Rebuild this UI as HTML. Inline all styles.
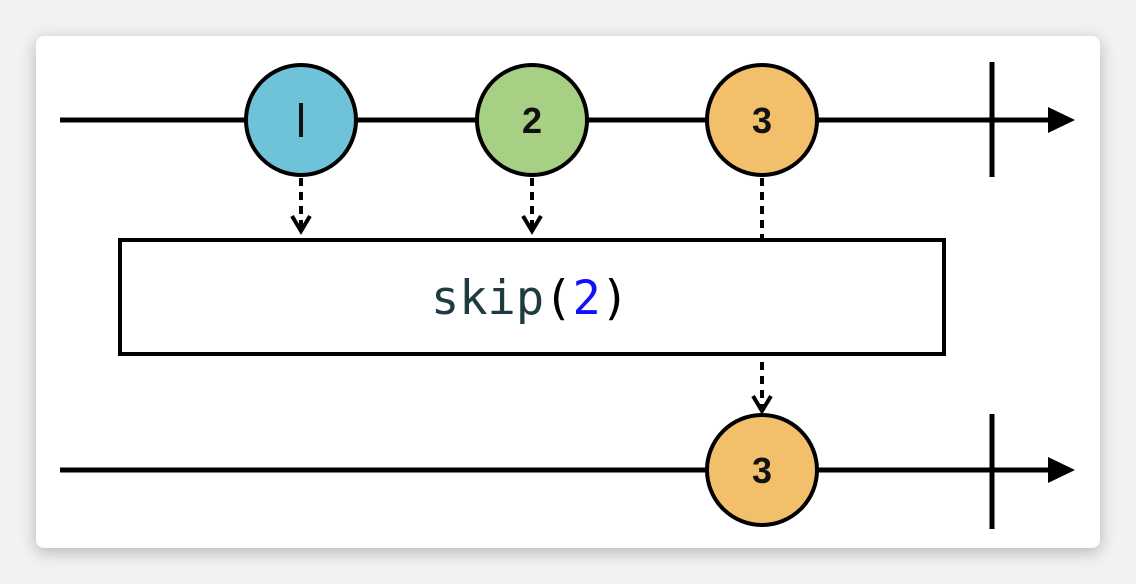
<!DOCTYPE html>
<html><head><style>
body{margin:0;width:1136px;height:584px;background:#f2f2f2;overflow:hidden}
.card{position:absolute;left:36px;top:36px;width:1064px;height:512px;background:#fff;border-radius:8px;box-shadow:0 4px 16px rgba(0,0,0,0.25)}
svg{position:absolute;left:0;top:0}
</style></head><body>
<div class="card"></div>
<svg width="1136" height="584" viewBox="0 0 1136 584">
<g stroke="#000" stroke-width="5">
<line x1="60" y1="120" x2="1055" y2="120"/>
<line x1="60" y1="470" x2="1055" y2="470"/>
<line x1="992" y1="62" x2="992" y2="177"/>
<line x1="992" y1="414" x2="992" y2="529"/>
</g>
<polygon points="1048,107 1075,120 1048,133" fill="#000"/>
<polygon points="1048,457 1075,470 1048,483" fill="#000"/>
<g stroke="#000" stroke-width="4" stroke-dasharray="8,6" fill="none">
<line x1="301" y1="178" x2="301" y2="230"/>
<line x1="532" y1="178" x2="532" y2="230"/>
<line x1="762" y1="178" x2="762" y2="239"/>
<line x1="762" y1="362" x2="762" y2="408"/>
</g>
<g stroke="#000" stroke-width="4" fill="none">
<polyline points="292,216 301,231 310,216"/>
<polyline points="523,216 532,231 541,216"/>
<polyline points="753,396 762,411 771,396"/>
</g>
<rect x="120" y="240" width="824" height="114" fill="#fff" stroke="#000" stroke-width="4"/>
<text x="530" y="314" text-anchor="middle" font-family="'DejaVu Sans Mono','Liberation Mono',monospace" font-size="47" fill="#1f3b40">skip<tspan fill="#000">(</tspan><tspan fill="#1010ff">2</tspan><tspan fill="#000">)</tspan></text>
<g stroke="#000" stroke-width="4">
<circle cx="301" cy="120" r="55" fill="#6fc3d8"/>
<circle cx="532" cy="120" r="55" fill="#a8d085"/>
<circle cx="762" cy="120" r="55" fill="#f2bf6a"/>
<circle cx="762" cy="470" r="55" fill="#f2bf6a"/>
</g>
<rect x="299" y="103" width="4" height="34" fill="#111"/>
<g font-family="'Liberation Sans',sans-serif" font-weight="bold" font-size="36" text-anchor="middle" fill="#111">
<text x="532" y="133">2</text>
<text x="762" y="133">3</text>
<text x="762" y="483">3</text>
</g>
</svg>
</body></html>
